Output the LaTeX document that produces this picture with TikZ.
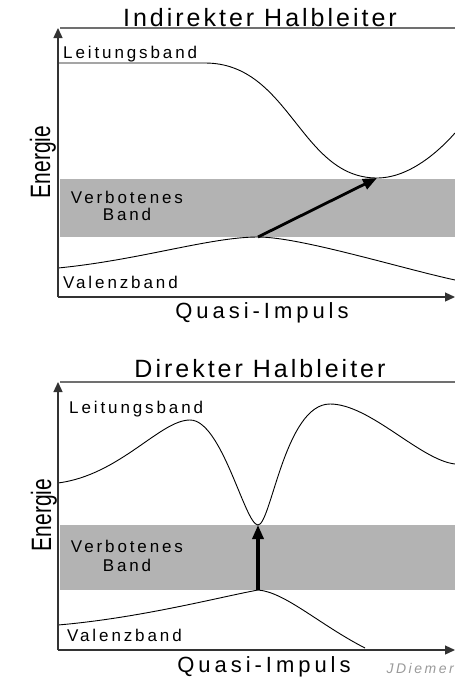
\documentclass[tikz,border=0pt]{standalone}
\usepackage{fontspec}
\usetikzlibrary{arrows.meta}
\setmainfont{Liberation Sans}
\newfontfamily\lblfont[LetterSpace=17]{Liberation Sans}
\newfontfamily\qfont[LetterSpace=18]{Liberation Sans}
\newfontfamily\ttlfont[LetterSpace=12]{Liberation Sans}
\newfontfamily\sigfont[LetterSpace=18]{Liberation Sans Italic}
\definecolor{bandgray}{HTML}{B3B3B3}
\definecolor{axisgray}{HTML}{333333}
\definecolor{framegray}{HTML}{707070}
\definecolor{siggray}{HTML}{9A9A9A}
\tikzset{
  axisline/.style={draw=axisgray, line width=1.3pt, -{Triangle[length=10pt,width=9pt]}},
  frameline/.style={draw=framegray, line width=1.4pt},
  bandcurve/.style={draw=black, line width=0.9pt},
  gapband/.style={fill=bandgray, draw=none},
  bigarrow/.style={draw=black, line width=2.8pt, -{Triangle[length=14pt,width=11pt]}},
  lbl/.style={inner sep=0pt, font=\lblfont\fontsize{17}{20}\selectfont},
  ttl/.style={inner sep=0pt, font=\ttlfont\fontsize{25}{29}\selectfont},
  qlbl/.style={inner sep=0pt, font=\qfont\fontsize{22}{26}\selectfont},
  elbl/.style={inner sep=0pt, rotate=90, font=\fontsize{28}{32}\selectfont},
  sig/.style={inner sep=0pt, text=siggray, font=\sigfont\fontsize{14}{16}\selectfont}
}
\begin{document}
\begin{tikzpicture}[x=1pt,y=-1pt]
\useasboundingbox (0,0) rectangle (455,678);
% ================= TOP: indirect =================
\fill[gapband] (60,179) rectangle (455,237);
\draw[frameline] (60,28) -- (455,28);
% conduction band
\draw[bandcurve] (58,63) -- (205,63) .. controls (290,63) and (300,178) .. (377,178)
      .. controls (410,178) and (440,150) .. (455,133);
% valence band
\draw[bandcurve] (58,268) .. controls (140,260) and (210,237) .. (258,237)
      .. controls (300,237) and (400,268) .. (455,280);
\coordinate (oT) at (58,297);
\coordinate (yT) at (58,28);
\coordinate (xT) at (455,297);
\draw[axisline] (oT) -- (yT);
\draw[axisline] (oT) -- (xT);
\coordinate (vmaxT) at (258,237);
\coordinate (cminT) at (377,178);
\draw[bigarrow] (vmaxT) -- (cminT);
\node[ttl, anchor=base] (titleT) at (260,26) {Indirekter Halbleiter};
\node[lbl, anchor=base west] (lbT) at (63,58) {Leitungsband};
\node[lbl, anchor=base] (vbT1) at (127,203) {Verbotenes};
\node[lbl, anchor=base] (vbT2) at (127,220) {Band};
\node[lbl, anchor=base west] (valT) at (63,288) {Valenzband};
\node[qlbl, anchor=base] (qT) at (262,318) {Quasi-Impuls};
\node[elbl, anchor=base] (eT) at (50,162) {\scalebox{0.75}[1]{Energie}};
% ================= BOTTOM: direct =================
\fill[gapband] (60,525) rectangle (455,590);
\draw[frameline] (60,382) -- (455,382);
% conduction band
\draw[bandcurve] (58,483) .. controls (120,475) and (160,420) .. (190,420)
      .. controls (222,420) and (245,525) .. (258,525)
      .. controls (271,525) and (285,404) .. (330,404)
      .. controls (370,404) and (420,460) .. (455,464);
% valence band
\draw[bandcurve] (58,625) .. controls (140,618) and (220,597) .. (258,590)
      .. controls (285,592) and (320,625) .. (365,648);
\coordinate (oB) at (58,650);
\coordinate (yB) at (58,382);
\coordinate (xB) at (455,650);
\draw[axisline] (oB) -- (yB);
\draw[axisline] (oB) -- (xB);
\coordinate (vmaxB) at (258,590);
\coordinate (cminB) at (258,525);
\draw[bigarrow, line width=3.4pt] (vmaxB) -- (cminB);
\node[ttl, anchor=base] (titleB) at (260,377) {Direkter Halbleiter};
\node[lbl, anchor=base west] (lbB) at (69,413) {Leitungsband};
\node[lbl, anchor=base] (vbB1) at (127,552) {Verbotenes};
\node[lbl, anchor=base] (vbB2) at (127,571) {Band};
\node[lbl, anchor=base west] (valB) at (67,641) {Valenzband};
\node[qlbl, anchor=base] (qB) at (264,672) {Quasi-Impuls};
\node[elbl, anchor=base] (eB) at (51,515) {\scalebox{0.75}[1]{Energie}};
\node[sig, anchor=base east] (sigB) at (454,673) {JDiemer};
\end{tikzpicture}
\end{document}
